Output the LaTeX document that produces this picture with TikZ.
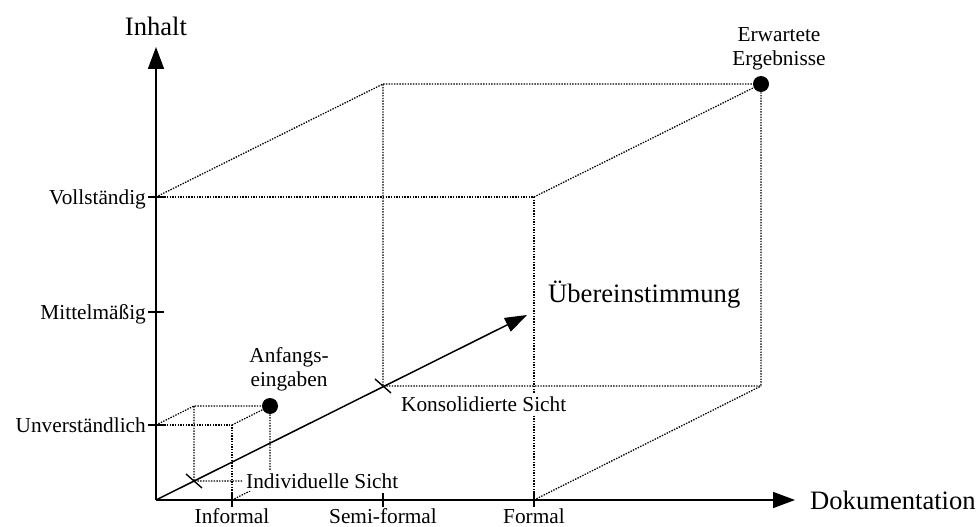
\documentclass[tikz,border=0pt]{standalone}
\usepackage{fontspec}
\setmainfont{Liberation Serif}
\usetikzlibrary{arrows.meta}
\begin{document}
\begin{tikzpicture}[x=1pt,y=-1pt,
  axis/.style={line width=1.8pt,-{Triangle[length=22pt,width=16pt]}},
  flow/.style={line width=1.5pt,-{Triangle[length=22pt,width=15pt]}},
  edge/.style={line width=1.3pt,dash pattern=on 1.4pt off 1.3pt,black},
  tickmark/.style={line width=1.4pt},
  lbl/.style={inner sep=0pt,font=\fontsize{21.3}{24}\selectfont},
  biglbl/.style={inner sep=0pt,font=\fontsize{26.6}{30}\selectfont},
  dot/.style={circle,fill=black,inner sep=0pt,minimum size=16pt},
  boxed/.style={fill=white,inner sep=3pt,font=\fontsize{21.3}{24}\selectfont}
]
\useasboundingbox (0,0) rectangle (978,527);

% axes
\coordinate (O) at (156,500);
\coordinate (xend) at (795,500);
\coordinate (yend) at (156,47);

% large cube
\coordinate (F1) at (156,197);
\coordinate (F2) at (534,197);
\coordinate (F3) at (534,500);
\coordinate (B0) at (383,386);
\coordinate (B1) at (383,84);
\coordinate (B2) at (761,84);
\coordinate (B3) at (761,386);

% small cube
\coordinate (S1) at (156,425);
\coordinate (S2) at (232,425);
\coordinate (S3) at (232,500);
\coordinate (T0) at (194,481);
\coordinate (T1) at (194,406);
\coordinate (T2) at (270,406);
\coordinate (T3) at (270,481);

\coordinate (Mid) at (156,312);
\coordinate (Semi) at (383,500);
\coordinate (tip) at (527,315);

% dotted cube edges
\draw[edge] (F1) -- (F2) -- (F3);
\draw[edge] (F1) -- (B1) -- (B2) -- (B3) -- (B0) -- (B1);
\draw[edge] (F2) -- (B2);
\draw[edge] (F3) -- (B3);

\draw[edge] (S1) -- (S2) -- (S3);
\draw[edge] (S1) -- (T1) -- (T2) -- (T3) -- (T0) -- (T1);
\draw[edge] (S2) -- (T2);
\draw[edge] (S3) -- (T3);

% axes
\draw[axis] (O) -- (xend);
\draw[axis] (O) -- (yend);

% ticks
\foreach \p in {F1,Mid,S1}
  \draw[tickmark] ([xshift=-8pt]\p) -- ([xshift=8pt]\p);
\foreach \p in {S3,Semi,F3}
  \draw[tickmark] ([shift={(0,-7)}]\p) -- ([shift={(0,7)}]\p);

% main direction
\draw[flow] (O) -- (tip);
\foreach \p in {T0,B0}
  \draw[tickmark] ([shift={(-8,-7)}]\p) -- ([shift={(8,7)}]\p);

% axis labels
\node[biglbl,anchor=base] (inhalt) at (156,36) {Inhalt};
\node[biglbl,anchor=base west] (doku) at (810,509) {Dokumentation};
\node[biglbl,anchor=base west] (ueber) at (548,302) {Übereinstimmung};

\node[lbl,anchor=base east] (voll) at (146,204) {Vollständig};
\node[lbl,anchor=base east] (mittel) at (146,319) {Mittelmäßig};
\node[lbl,anchor=base east] (unver) at (146,432) {Unverständlich};

\node[lbl,anchor=base] (inf) at (232,523) {Informal};
\node[lbl,anchor=base] (semif) at (383,523) {Semi-formal};
\node[lbl,anchor=base] (form) at (534,523) {Formal};

% views
\node[boxed,anchor=base west] (indiv) at (243,488) {Individuelle Sicht};
\node[boxed,anchor=base west] (kons) at (398,411) {Konsolidierte Sicht};

% points
\node[dot] (anf) at (T2) {};
\node[dot] (erw) at (B2) {};
\node[lbl,align=center,anchor=south,text depth=0pt] (anflbl) at (289,387) {Anfangs-\\eingaben};
\node[lbl,align=center,anchor=south,text depth=0pt] (erwlbl) at (779,66) {Erwartete\\Ergebnisse};
\end{tikzpicture}
\end{document}
